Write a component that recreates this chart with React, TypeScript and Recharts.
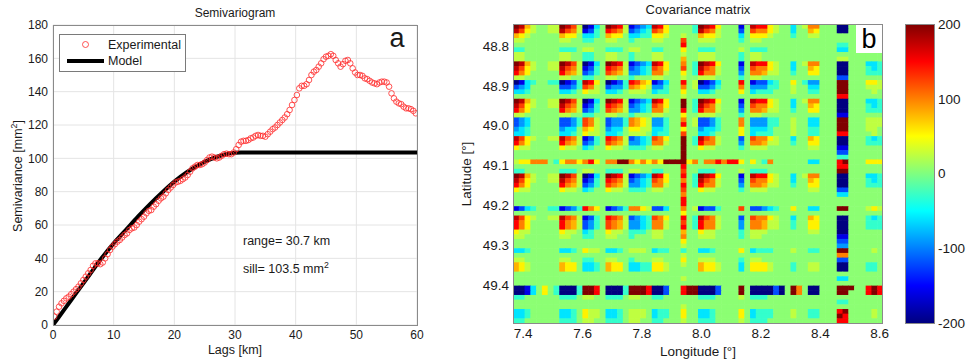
import React from "react";
import {
  Bar,
  BarChart,
  CartesianGrid,
  ComposedChart,
  Line,
  Scatter,
  ScatterChart,
  XAxis,
  YAxis,
} from "recharts";

const FONT = '"Liberation Sans", Arial, Helvetica, sans-serif';
const INK = "#1a1a1a";
const FRAME = "#8a8a8a";

// ---- semivariogram ----
const lagTicks = [0, 10, 20, 30, 40, 50, 60];
const gammaTicks = [0, 20, 40, 60, 80, 100, 120, 140, 160, 180];

const experimentalLags = [
  0.2, 0.6, 1.0, 1.4, 1.8, 2.2, 2.6, 3.0, 3.4, 3.8,
  4.2, 4.6, 5.0, 5.4, 5.8, 6.2, 6.6, 7.0, 7.4, 7.8,
  8.2, 8.6, 9.0, 9.4, 9.8, 10.2, 10.6, 11.0, 11.4, 11.8,
  12.2, 12.6, 13.0, 13.4, 13.8, 14.2, 14.6, 15.0, 15.4, 15.8,
  16.2, 16.6, 17.0, 17.4, 17.8, 18.2, 18.6, 19.0, 19.4, 19.8,
  20.2, 20.6, 21.0, 21.4, 21.8, 22.2, 22.6, 23.0, 23.4, 23.8,
  24.2, 24.6, 25.0, 25.4, 25.8, 26.2, 26.6, 27.0, 27.4, 27.8,
  28.2, 28.6, 29.0, 29.4, 29.8, 30.2, 30.6, 31.0, 31.4, 31.8,
  32.2, 32.6, 33.0, 33.4, 33.8, 34.2, 34.6, 35.0, 35.4, 35.8,
  36.2, 36.6, 37.0, 37.4, 37.8, 38.2, 38.6, 39.0, 39.4, 39.8,
  40.2, 40.6, 41.0, 41.4, 41.8, 42.2, 42.6, 43.0, 43.4, 43.8,
  44.2, 44.6, 45.0, 45.4, 45.8, 46.2, 46.6, 47.0, 47.4, 47.8,
  48.2, 48.6, 49.0, 49.4, 49.8, 50.2, 50.6, 51.0, 51.4, 51.8,
  52.2, 52.6, 53.0, 53.4, 53.8, 54.2, 54.6, 55.0, 55.4, 55.8,
  56.2, 56.6, 57.0, 57.4, 57.8, 58.2, 58.6, 59.0, 59.4, 59.8,
];
const experimentalGamma = [
  5, 8, 11, 13, 14.5, 16, 17, 18.5, 20, 21.5,
  23, 25, 27, 29, 31, 33, 35.5, 37, 37, 36.5,
  37.5, 40, 42.5, 45, 47, 48.5, 50, 51, 52.5, 54,
  55, 57, 58, 58.5, 60, 62, 63.5, 65, 67, 68.5,
  69, 71, 72.5, 74.5, 76, 77, 79, 81, 82.5, 84,
  85.5, 86, 86.5, 87.5, 88.5, 90, 92, 94, 95, 96,
  96, 96.5, 97.5, 99, 100.5, 101, 100.5, 100, 100.5, 101.5,
  102.5, 102.8, 102.5, 102.5, 103.5, 105.5, 108, 110, 110.5, 110.5,
  111, 112, 112.5, 113.5, 114, 113.5, 113.5, 113, 114.5, 116,
  117.5, 118.5, 120, 121.5, 123, 124.5, 126.5, 129, 132, 135,
  138, 142, 143.5, 143.5, 144.5, 147, 150, 152, 153, 155,
  157, 159.5, 161, 161.5, 162.5, 161.5, 159, 157, 155, 156.5,
  158.5, 159, 157, 154, 151.5, 150, 150, 149.5, 148, 147.5,
  146.5, 145.5, 145, 144.5, 145.5, 146, 146, 145.5, 143, 139,
  136, 134, 133, 132.5, 131, 130, 130, 129.5, 128.5, 127,
];
const modelLags = [0, 2, 4, 6, 8, 10, 12, 14, 16, 18, 20, 22, 24, 26, 28, 30, 31, 60];
const modelGamma = [0, 10, 20, 30, 40, 49, 57, 65, 72.5, 79.5, 86, 91.5, 96, 99.5, 102, 103.3, 103.5, 103.5];

// ---- covariance matrix ----
const lonTicks = [7.4, 7.6, 7.8, 8.0, 8.2, 8.4, 8.6];
const latTicks = [48.8, 48.9, 49.0, 49.1, 49.2, 49.3, 49.4];
const lonExtent = [7.366, 8.611];
const latExtent = [48.745, 49.496];
const colorLimits = [-200, 200];
const colorTicks = [-200, -100, 0, 100, 200];

// one character per cell, see levelValues
const levelValues: Record<string, number> = {
  "#": -200, B: -160, b: -120, m: -90, c: -60, t: -30, ".": 5,
  g: 25, y: 55, a: 80, o: 100, O: 125, r: 150, s: 175, R: 200,
};
const covRows = [
  "Rsag..ggRs Og#Bc.Rsrg Bbmcsry... .tRsry...B .srryg..c. goo...##.. .cct",
  "sOyg..ggsO ogBbt.rOog bmctOoy... .tsOog...b .Oooyg..c. .ay...##.. .tct",
  "ayg.....ay y.cct.ayy. ccttyyg..g ..ayyg...c .yyyg...t. .gg....... .tt.",
  "gg......gg ..tt..gg.. t...gg...O ..ggg....t .gg....... .......... ....",
  ".......... .......... .........r .......... .......... ......tt.. ....",
  "tt......tt t.gg..ttt. gg..tt...y ..ttt....g .ttt...... ......cc.. ....",
  "gg......gg ..tt..gg.. t...gg...g ..ggg....t .gg....... .......... ....",
  "gg......gg ..tt..gg.. t...gg...a ..ggg....t .gg....... ......gg.. ....",
  "Rsag..ggRs Og#Bc.Rsrg Bbmcsry..o .tRsry...B .srryg..c. goo...##.. .cct",
  "sOyg..ggsO ogBbt.rOog bmctOoy..O .tsOog...b .Oooyg..c. .ay...##.. .tct",
  "roy.....ro agbmt.Ooag mmctoog..y .troog...m .ooagg..t. .yy...##.. .ttt",
  "gg......gg ..tt..gg.. t...gg...g ..ggg....t .gg....... ......bb.. ....",
  "#Bct..tt#B btsry.#Bbt rOayBbc..r .g#Bbc...r .Bbbct..y. tmm...RR.. .yyg",
  "bmc.....bb mtOog.bmmt oaygmmt..o .gbbmt...o .mmmtt..g. .cc...RR.. .ggg",
  "cct.....cc t.ygg.cct. ggg.ctt..y ..cct....y .cttt...g. .tt...RR.. ..g.",
  ".......... .......... .........g .......... .......... ......rr.. ....",
  "Rsag..ggRs Og#Bc.Rsrg Bbmcsry..R .tRsry...B .srryg..c. goo...##.. .cct",
  "sOyg..ggsO ogBbt.rOog bmctOoy..R .tsOog...b .Oooyg..c. .ay...##.. .tct",
  "roy.....ro agbmt.Ooag mmctoog..r .troog...m .ooagg..t. .yy...##.. .ttt",
  "gg......gg ..tt..gg.. t...gg...y ..ggg....t .gg....... ......BB.. ....",
  "bmc.....bb mtOog.bmmt oaygmmt..o .gbbmt...o .mmmtt..g. .cc...RR.. .ggg",
  "bmc.....bb mtOog.bmmt oaygmmt..r .gbbmt...o .mmmtt..g. .cc...RR.. .ggg",
  "mct.....mc c.ayg.mcc. yyggcct..y ..mcct...y .ccct...g. .tt...RR.. .gg.",
  "cct.....cc t.ygg.cct. ggg.ctt..O ..cct....y .cttt...g. .tt...rr.. ..g.",
  "sOyg..ggsO ogBbt.rOog bmctOoy..R .tsOog...b .Oooyg..c. .ay...##.. .tct",
  "roy.....ro agbmt.Ooag mmctoog..R .troog...m .ooagg..t. .yy...##.. .ttt",
  "ygg.....yg g.ct..ygg. ttt.gg...R ..ygg....t .ggg...... .gg...BB.. ....",
  ".......... .......... .........R .......... .......... ......bb.. ....",
  ".......... .......... .........R .......... .......... ......tt.. ....",
  "gyyooo.tyo oyory.ooRR oyoyoyRRRR yo.oororry .y.to..... .cc...rR.. .yyy",
  ".......... .......... .........r .......... .......... ......rr.. ....",
  "tt......tt t.gg..ttt. gg..tt...O ..ttt....g .ttt...... ......RR.. ....",
  "Rsag..ggRs Og#Bc.Rsrg Bbmcsry..r .tRsry...B .srryg..c. goo...##.. .cct",
  "sOyg..ggsO ogBbt.rOog bmctOoy..o .tsOog...b .Oooyg..c. .ay...##.. .tct",
  "roy.....ro agbmt.Ooag mmctoog..r .troog...m .ooagg..t. .yy...##.. .ttt",
  "ygg.....yg g.ct..ygg. ttt.gg...O ..ygg....t .ggg...... .gg...bb.. ....",
  ".......... .......... .........o .......... .......... ......cc.. ....",
  ".......... .......... .........r .......... .......... .......... ....",
  ".......... .......... .........r .......... .......... .......... ....",
  "Bbct..ttBb mtroy.Bbmt ooygbbc..o .gBbbt...O .bbmct..y. .cc...RR.. .gyg",
  ".......... .......... .........y .......... .......... .......... ....",
  "sOyg..ggsO ogBbt.rOog bmctOoy..r .tsOog...b .Oooyg..c. .ay...##.. .tct",
  "roy.....ro agbmt.Ooag mmctoog..O .troog...m .ooagg..t. .yy...##.. .ttt",
  "roy.....ro agbmt.Ooag mmctoog..r .troog...m .ooagg..t. .yy...##.. .ttt",
  "ygg.....yg g.ct..ygg. ttt.gg...a ..ygg....t .ggg...... .gg...##.. ....",
  "gg......gg ..tt..gg.. t...gg...o ..ggg....t .gg....... ......BB.. ....",
  ".......... .......... .........y .......... .......... ......bb.. ....",
  ".......... .......... .........g .......... .......... ......mm.. ....",
  "cct.....cc t.ygg.cct. ggg.ctt..t ..cct....y .cttt...g. .tt...RR.. ..g.",
  ".......... .......... .........g .......... .......... ......oo.. ....",
  "gg......gg ..tt..gg.. t...gg...y ..ggg....t .gg....... ......bb.. ....",
  "ayg.....ay y.cct.ayy. ccttyyg..g ..ayyg...c .yyyg...t. .gg...##.. .tt.",
  "ayg.....ay y.cct.ayy. ccttyyg... ..ayyg...c .yyyg...t. .gg...##.. .tt.",
  ".......... .......... .......... .......... .......... .......... ....",
  ".......... .......... .........g .......... .......... ......cc.. ....",
  ".......... .......... .......... .......... .......... .......... ....",
  "##Bc.y.t## #tRRr.###t RRRr##b..r RR###b...R .####b#.Ro .##...RRR. .rRr",
  "##Bc.y.t## #tRRr.###t RRRr##b..r RR###b...R .####b#.Ro .##...RR.. .rRr",
  "tt......tt t.gg..ttt. gg..tt.... ..ttt....g .ttt...... .......... ....",
  ".......... .......... .......... .......... .......... ......tt.. ....",
  ".......... .......... .........g .......... .......... .......... ....",
  "cct.....cc t.ygg.cct. ggg.ctt..y ..cct....y .cttt...g. .tt...rR.. ..g.",
  "cct.....cc t.ygg.cct. ggg.ctt..y ..cct....y .cttt...g. .tt...Rr.. ..g.",
  "tt......tt t.gg..ttt. gg..tt...g ..ttt....g .ttt...... ......rr.. ....",
];

const experimentalData = experimentalLags.map((lag, i) => ({ lag, gamma: experimentalGamma[i] }));
const modelData = modelLags.map((lag, i) => ({ lag, gamma: modelGamma[i] }));

const GRID_N = covRows.length;
const dLon = (lonExtent[1] - lonExtent[0]) / GRID_N;
const dLat = (latExtent[1] - latExtent[0]) / GRID_N;
const cells = covRows.flatMap((row, r) =>
  row
    .replace(/ /g, "")
    .padEnd(GRID_N, ".")
    .split("")
    .map((ch, c) => ({
      lon: lonExtent[0] + (c + 0.5) * dLon,
      lat: latExtent[0] + (r + 0.5) * dLat,
      cov: levelValues[ch] ?? 0,
    }))
);
const colorbarData = [{ name: "cb", span: colorLimits }];

// MATLAB-style jet colormap
const jet = (v: number) => {
  const t = Math.min(1, Math.max(0, (v - colorLimits[0]) / (colorLimits[1] - colorLimits[0])));
  const ch = (x: number) => Math.round(255 * Math.min(1, Math.max(0, x)));
  const r = ch(Math.min(4 * t - 1.5, -4 * t + 4.5));
  const g = ch(Math.min(4 * t - 0.5, -4 * t + 3.5));
  const b = ch(Math.min(4 * t + 0.5, -4 * t + 2.5));
  return `rgb(${r},${g},${b})`;
};

const HM_W = 370;
const HM_H = 299;
const CELL_W = HM_W / GRID_N;
const CELL_H = HM_H / GRID_N;

const CellShape = (props: any) => {
  const { cx, cy, payload } = props;
  return (
    <rect
      x={cx - CELL_W / 2}
      y={cy - CELL_H / 2}
      width={CELL_W + 0.6}
      height={CELL_H + 0.6}
      fill={jet(payload.cov)}
    />
  );
};

const Circle = (props: any) => (
  <circle cx={props.cx} cy={props.cy} r={2.8} fill="none" stroke="#ff2a2a" strokeWidth={0.8} />
);

const Txt = ({ x, y, size = 12.5, align = "middle", rotate = 0, children }: any) => (
  <div
    style={{
      position: "absolute",
      left: x,
      top: y,
      fontSize: size,
      fontFamily: FONT,
      color: INK,
      lineHeight: 1,
      whiteSpace: "nowrap",
      transform: `translate(${align === "middle" ? "-50%" : "0"}, -50%) rotate(${rotate}deg)`,
    }}
  >
    {children}
  </div>
);

const Sup = ({ children }: any) => (
  <sup style={{ fontSize: "0.7em", lineHeight: 0 }}>{children}</sup>
);

const Box = ({ x, y, w, h, bg = "transparent", color = FRAME }: any) => (
  <div
    style={{
      position: "absolute",
      left: x,
      top: y,
      width: w,
      height: h,
      boxSizing: "border-box",
      border: `1px solid ${color}`,
      background: bg,
      pointerEvents: "none",
    }}
  />
);

const tickA = { fontSize: 12, fill: INK, fontFamily: FONT };
const tickB = { fontSize: 13.5, fill: INK, fontFamily: FONT };
const fmt1 = (v: number) => v.toFixed(1);

export default function App() {
  return (
    <div
      style={{
        position: "absolute",
        left: 0,
        top: 0,
        width: 971,
        height: 363,
        background: "#fff",
        fontFamily: FONT,
        overflow: "hidden",
      }}
    >
      {/* semivariogram panel */}
      <div style={{ position: "absolute", left: 0, top: 0 }}>
        <ComposedChart width={440} height={363} margin={{ top: 25, right: 23, bottom: 8, left: 8 }}>
          <CartesianGrid stroke="#e4e4e4" />
          <XAxis
            type="number"
            dataKey="lag"
            domain={[0, 60]}
            ticks={lagTicks}
            allowDataOverflow
            axisLine={false}
            tickLine={false}
            tickSize={0}
            tickMargin={5}
            height={30}
            tick={tickA}
          />
          <YAxis
            type="number"
            domain={[0, 180]}
            ticks={gammaTicks}
            allowDataOverflow
            axisLine={false}
            tickLine={false}
            tickSize={0}
            tickMargin={5}
            width={45}
            tick={tickA}
          />
          <Scatter data={experimentalData} dataKey="gamma" shape={Circle} isAnimationActive={false} />
          <Line
            data={modelData}
            dataKey="gamma"
            type="monotone"
            stroke="#000"
            strokeWidth={4}
            dot={false}
            isAnimationActive={false}
          />
        </ComposedChart>
      </div>
      <Box x={53} y={25} w={365} h={301} />
      <Txt x={235} y={12.5} size={12}>Semivariogram</Txt>
      <Txt x={235} y={350}>Lags [km]</Txt>
      <Txt x={17.5} y={176} rotate={-90}>
        Semivariance [mm<Sup>2</Sup>]
      </Txt>
      <Txt x={397} y={38} size={27}>a</Txt>
      <Txt x={243} y={241} align="left">range= 30.7 km</Txt>
      <Txt x={243} y={269} align="left">
        sill= 103.5 mm<Sup>2</Sup>
      </Txt>
      <div style={{ position: "absolute", left: 59, top: 34 }}>
        <svg width={127} height={38} style={{ display: "block" }}>
          <rect x={0.5} y={0.5} width={126} height={37} fill="#fff" stroke="#7a7a7a" />
          <circle cx={26.5} cy={10.5} r={3} fill="none" stroke="#ff2a2a" strokeWidth={0.8} />
          <text x={49} y={10.5} dominantBaseline="central" fontSize={12.5} fontFamily={FONT} fill={INK}>
            Experimental
          </text>
          <line x1={8} x2={45} y1={27} y2={27} stroke="#000" strokeWidth={4} />
          <text x={49} y={27} dominantBaseline="central" fontSize={12.5} fontFamily={FONT} fill={INK}>
            Model
          </text>
        </svg>
      </div>

      {/* covariance matrix panel */}
      <div style={{ position: "absolute", left: 440, top: 0 }}>
        <ScatterChart width={460} height={363} margin={{ top: 24, right: 17, bottom: 10, left: 13 }}>
          <XAxis
            type="number"
            dataKey="lon"
            domain={lonExtent}
            ticks={lonTicks}
            allowDataOverflow
            axisLine={false}
            tickLine={false}
            tickSize={0}
            tickMargin={5}
            height={30}
            tick={tickB}
            tickFormatter={fmt1}
          />
          <YAxis
            type="number"
            dataKey="lat"
            domain={latExtent}
            ticks={latTicks}
            reversed
            allowDataOverflow
            axisLine={false}
            tickLine={false}
            tickSize={0}
            tickMargin={4}
            width={60}
            tick={tickB}
            tickFormatter={fmt1}
          />
          <Scatter data={cells} shape={CellShape} isAnimationActive={false} />
        </ScatterChart>
      </div>
      <Box x={513} y={24} w={370} h={300} />
      <div
        style={{
          position: "absolute",
          left: 856,
          top: 25,
          width: 26,
          height: 28,
          background: "#fff",
          fontSize: 27,
          lineHeight: "28px",
          textAlign: "center",
          color: "#000",
          fontFamily: FONT,
        }}
      >
        b
      </div>
      <Txt x={698} y={9} size={13}>Covariance matrix</Txt>
      <Txt x={698} y={352} size={13.5}>Longitude [°]</Txt>
      <Txt x={467} y={174} size={13.5} rotate={-90}>Latitude [°]</Txt>

      {/* colour bar */}
      <div style={{ position: "absolute", left: 890, top: 0 }}>
        <BarChart
          width={81}
          height={363}
          data={colorbarData}
          margin={{ top: 24, right: 0, bottom: 40, left: 15 }}
          barCategoryGap={0}
        >
          <defs>
            <linearGradient id="jetGrad" x1="0" y1="1" x2="0" y2="0">
              <stop offset="0" stopColor="#000080" />
              <stop offset="0.125" stopColor="#0000ff" />
              <stop offset="0.375" stopColor="#00ffff" />
              <stop offset="0.625" stopColor="#ffff00" />
              <stop offset="0.875" stopColor="#ff0000" />
              <stop offset="1" stopColor="#800000" />
            </linearGradient>
          </defs>
          <XAxis dataKey="name" hide />
          <YAxis
            orientation="right"
            type="number"
            domain={colorLimits}
            ticks={colorTicks}
            allowDataOverflow
            axisLine={false}
            tickLine={false}
            tickSize={0}
            tickMargin={4}
            width={37}
            tick={tickB}
          />
          <Bar dataKey="span" fill="url(#jetGrad)" isAnimationActive={false} />
        </BarChart>
      </div>
      <Box x={905} y={24} w={30} h={300} />
    </div>
  );
}
